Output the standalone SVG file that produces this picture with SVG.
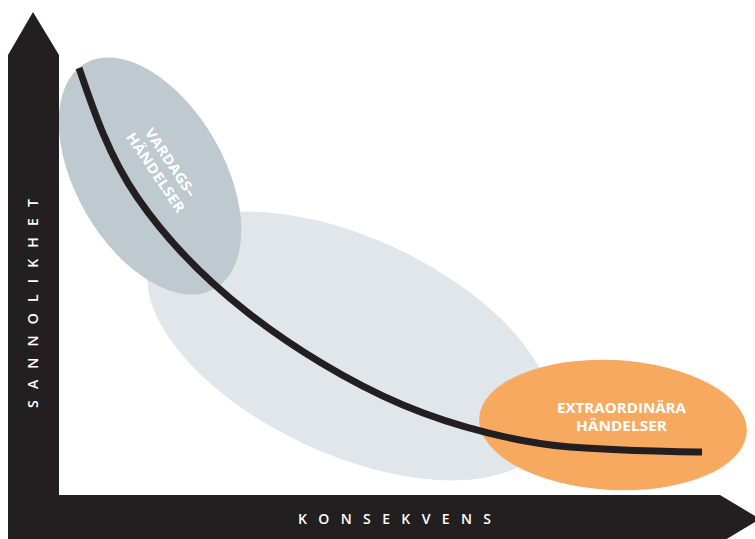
<svg xmlns="http://www.w3.org/2000/svg" width="755" height="539" viewBox="0 0 755 539">
  <style>
    .axis { fill: #231f20; }
    .axis-label { fill: #ffffff; font-family: "Open Sans", "Liberation Sans", Arial, sans-serif; font-size: 14px; font-weight: 600; }
    .zone-label { fill: #ffffff; font-family: "Open Sans", "Liberation Sans", Arial, sans-serif; font-size: 14px; font-weight: 700; text-anchor: middle; }
    .trend { fill: none; stroke: #231f20; stroke-width: 7; stroke-linecap: butt; }
  </style>
  <rect width="755" height="539" fill="#ffffff"/>

  <!-- wide spread of events -->
  <g id="spread">
    <ellipse cx="350" cy="346" rx="218" ry="108" transform="rotate(25 350 346)" fill="#e1e6ea"/>
  </g>

  <!-- everyday events -->
  <g id="vardag">
    <ellipse cx="150" cy="176" rx="130" ry="74" transform="rotate(60 150 176)" fill="#bec9d0"/>
    <g transform="translate(164 167) rotate(56)">
      <text class="zone-label" x="0" y="-3" textLength="80" lengthAdjust="spacingAndGlyphs">VARDAGS–</text>
      <text class="zone-label" x="0" y="15" textLength="93" lengthAdjust="spacingAndGlyphs">HÄNDELSER</text>
    </g>
  </g>

  <!-- extraordinary events -->
  <g id="extra">
    <ellipse cx="613" cy="425" rx="134" ry="65" transform="rotate(3 613 425)" fill="#f7aa5f"/>
    <text class="zone-label" x="621.5" y="412.5" textLength="129" lengthAdjust="spacingAndGlyphs">EXTRAORDINÄRA</text>
    <text class="zone-label" x="621.5" y="431" textLength="91" lengthAdjust="spacingAndGlyphs">HÄNDELSER</text>
  </g>

  <!-- probability/consequence curve -->
  <g id="connectors">
    <path class="trend" d="M79 68 C94 112 109 156.3 137 197 C165 237.7 202.7 277.3 247 312 C291.3 346.7 349.2 382.5 403 405 C456.8 427.5 520 443 570 447 C614 450.5 685 452 702 452"/>
  </g>

  <!-- axes -->
  <g id="axis-y">
    <polygon class="axis" points="8,539 8,55 33,12 59,55 59,539"/>
    <g transform="translate(38 408) rotate(-90)">
      <text class="axis-label" x="0" y="0" textLength="209" lengthAdjust="spacing">SANNOLIKHET</text>
    </g>
  </g>
  <g id="axis-x">
    <polygon class="axis" points="8,495 720,495 760,519 720,543 8,543"/>
    <text class="axis-label" x="298" y="524" textLength="193" lengthAdjust="spacing">KONSEKVENS</text>
  </g>
</svg>
